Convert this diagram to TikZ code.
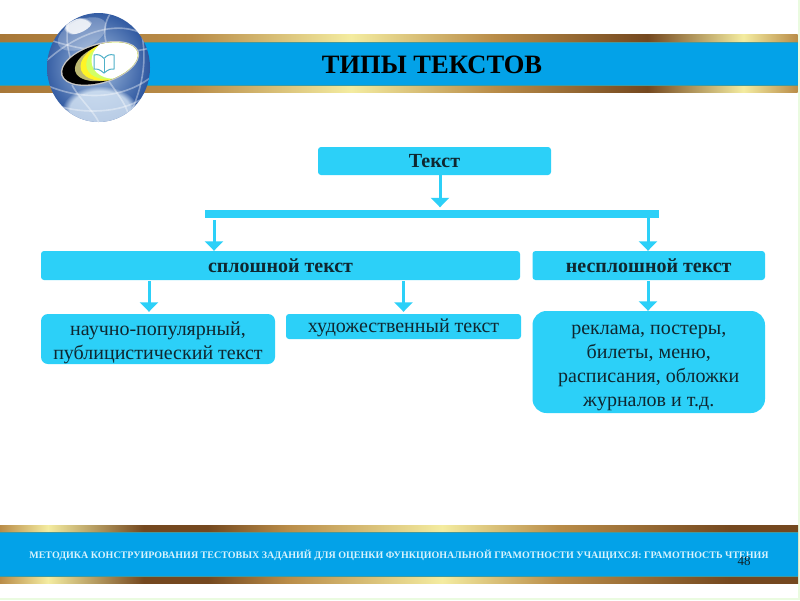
\documentclass[tikz,border=0pt]{standalone}
\usepackage{fontspec}
\setmainfont{Liberation Serif}
\usetikzlibrary{arrows.meta,shapes.geometric,fadings}
\definecolor{boxblue}{HTML}{2CD0F8}
\definecolor{bandblue}{HTML}{03A2E8}
\definecolor{inkdark}{HTML}{0F2730}
\definecolor{goldteal}{HTML}{3F9AA0}
\definecolor{edgegreen}{HTML}{EAFBE0}
\definecolor{gA}{HTML}{A87838}
\definecolor{gB}{HTML}{F4ECA0}
\definecolor{gC}{HTML}{74481F}
\definecolor{gD}{HTML}{B98C48}
\definecolor{globeIn}{HTML}{A9C3E2}
\definecolor{globeRim}{HTML}{1F4A98}
\definecolor{globeGlow}{HTML}{DDEBF8}
\definecolor{bookline}{HTML}{4FB0C8}
\pgfdeclarehorizontalshading{goldtop}{100bp}{color(0bp)=(gA);color(25bp)=(gA);color(37bp)=(gD);color(47bp)=(gB);color(56bp)=(gD);color(65.6bp)=(gC);color(71.6bp)=(gB);color(75bp)=(gD);color(100bp)=(gD)}
\pgfdeclarehorizontalshading{goldbot}{100bp}{color(0bp)=(gD);color(25bp)=(gD);color(28bp)=(gB);color(34bp)=(gC);color(38bp)=(gC);color(43bp)=(gD);color(52.7bp)=(gB);color(60bp)=(gD);color(70.8bp)=(gC);color(75bp)=(gC);color(100bp)=(gC)}
\tikzset{
  x=1pt,y=-1pt,
  boxnode/.style={fill=boxblue,draw=none,text=inkdark,align=center,inner sep=0pt,rounded corners=#1,
    font=\fontsize{20}{24}\selectfont},
  boxnode/.default=3pt,
  boldtext/.style={font=\fontsize{20}{24}\selectfont\bfseries},
  flowarrow/.style={draw=boxblue,line width=3pt,-{Triangle[width=18pt,length=9.5pt]}},
  band/.style={fill=bandblue,draw=none},
  gridline/.style={draw=white,opacity=.38,line width=1.6pt},
}
\begin{document}
\begin{tikzpicture}
\useasboundingbox (0,0) rectangle (800,600);
\fill[white] (0,0) rectangle (800,600);
\fill[edgegreen] (797.5,0) rectangle (800,600);
\fill[edgegreen] (0,598) rectangle (800,600);

% top band
\shade[shading=goldtop] (0,34) rectangle (797.5,92.5);
\fill[band] (0,42) rectangle (797.5,85);
\draw[goldteal,line width=.8pt] (0,42) -- (797.5,42) (0,85) -- (797.5,85);
% bottom band
\shade[shading=goldbot] (0,525.5) rectangle (798,583);
\fill[band] (0,532) rectangle (798,576);
\draw[goldteal,line width=.8pt] (0,532) -- (798,532) (0,576) -- (798,576);

% globe
\begin{scope}
\clip (98.5,67.5) ellipse (51.5 and 54.5);
\shade[inner color=globeIn,outer color=globeRim] (96,66) ellipse (60 and 63);
\fill[globeGlow,opacity=.8,path fading=circle with fuzzy edge 20 percent] (100,110) ellipse (38 and 24);
% grid
\draw[gridline] (45,62) .. controls (80,30) and (120,20) .. (145,35);
\draw[gridline] (50,40) .. controls (85,52) and (125,55) .. (150,48);
\draw[gridline] (46,85) .. controls (80,100) and (120,100) .. (150,78);
\draw[gridline] (55,105) .. controls (85,115) and (120,112) .. (140,100);
\draw[gridline] (72,12) .. controls (62,35) and (68,60) .. (82,85);
\draw[gridline] (110,14) .. controls (100,30) and (105,50) .. (118,60);
\draw[gridline] (108,80) .. controls (118,95) and (130,108) .. (130,125);
\draw[gridline] (72,85) .. controls (80,100) and (95,112) .. (100,125);
\draw[gridline] (138,20) .. controls (148,50) and (145,80) .. (132,110);
% highlight
\fill[white,opacity=.25,rotate around={25:(82,34)}] (82,34) ellipse (26 and 14);
\fill[white,opacity=.85,path fading=circle with fuzzy edge 20 percent,rotate around={22:(78,26)}] (78,26) ellipse (15 and 7);
\end{scope}
% lens
\begin{scope}[rotate around={17:(100,63.5)}]
\fill[white!55!gray] (100,63.5) ellipse (40.5 and 20);
\clip (100,63.5) ellipse (39 and 18.6);
\fill[black] (100,63.5) ellipse (40 and 20);
\fill[gray!60!yellow] (110,64) ellipse (36 and 18);
\fill[yellow!85!white] (113,64) ellipse (33 and 19);
\fill[green!30!yellow!60!white] (116,64) ellipse (30 and 19);
\fill[white] (120,63) ellipse (28 and 21);
\end{scope}
% book
\begin{scope}[draw=bookline,line width=1pt,fill=white]
\draw (104,73) .. controls (99,69) and (97,68.5) .. (94,69) -- (94,55) .. controls (98,54) and (101,55) .. (104,58.5) .. controls (107,55) and (110,54) .. (114,55) -- (114,69) .. controls (111,68.5) and (109,69) .. (104,73) -- cycle;
\draw (104,58.5) -- (104,73);
\end{scope}

% texts in bands
\node[font=\fontsize{26.5}{28}\selectfont\bfseries,text=black,inner sep=0pt] (title) at (432,65) {ТИПЫ ТЕКСТОВ};
\node[font=\fontsize{10}{11}\selectfont\bfseries,text=white!85!cyan,inner sep=0pt] (footer) at (399,555) {МЕТОДИКА КОНСТРУИРОВАНИЯ ТЕСТОВЫХ ЗАДАНИЙ ДЛЯ ОЦЕНКИ ФУНКЦИОНАЛЬНОЙ ГРАМОТНОСТИ УЧАЩИХСЯ: ГРАМОТНОСТЬ ЧТЕНИЯ};
\node[font=\fontsize{13}{14}\selectfont,text=inkdark!90!black,inner sep=0pt] (pagenum) at (744,561) {48};

% boxes
\node[boxnode,boldtext,minimum width=233pt,minimum height=28pt] (tekst) at (434.5,161) {Текст};
\node[fill=boxblue,inner sep=0pt,minimum width=453.5pt,minimum height=8pt] (bar) at (431.75,214) {};
\node[boxnode,boldtext,minimum width=479pt,minimum height=29pt] (sploshn) at (280.5,265.5) {сплошной текст};
\node[boxnode,boldtext,minimum width=232.5pt,minimum height=29pt] (nesploshn) at (648.75,265.5) {несплошной текст};
\node[boxnode=7pt,minimum width=234pt,minimum height=50pt] (nauch) at (158,339) {\rule{0pt}{21pt}научно-популярный,\\публицистический текст};
\node[boxnode,minimum width=235pt,minimum height=25pt] (hud) at (403.5,326.5) {\rule{0pt}{17pt}художественный текст};
\node[boxnode=14pt,minimum width=232.5pt,minimum height=102pt] (rekl) at (648.75,362) {\rule{0pt}{21pt}реклама, постеры,\\билеты, меню,\\расписания, обложки\\журналов и т.д.};

% arrow columns
\coordinate (colA) at (440,0);
\coordinate (colB) at (214,0);
\coordinate (colC) at (648,0);
\coordinate (colD) at (149,0);
\coordinate (colE) at (403.5,0);

\draw[flowarrow] (tekst.south -| colA) -- ([yshift=2.5pt]bar.north -| colA);
\draw[flowarrow] ([yshift=-2pt]bar.south -| colB) -- (sploshn.north -| colB);
\draw[flowarrow] (bar.south -| colC) -- (nesploshn.north -| colC);
\draw[flowarrow] ([yshift=-1pt]sploshn.south -| colD) -- ([yshift=2pt]nauch.north -| colD);
\draw[flowarrow] ([yshift=-1pt]sploshn.south -| colE) -- ([yshift=2pt]hud.north -| colE);
\draw[flowarrow] ([yshift=-1pt]nesploshn.south -| colC) -- (rekl.north -| colC);
\end{tikzpicture}
\end{document}
